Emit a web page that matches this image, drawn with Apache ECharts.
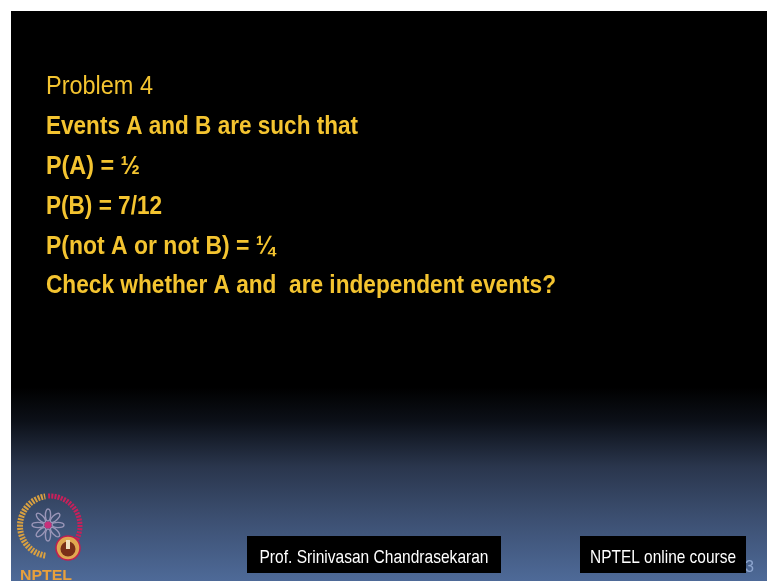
<!DOCTYPE html>
<html>
<head>
<meta charset="utf-8">
<script src="https://cdn.jsdelivr.net/npm/echarts@6/dist/echarts.min.js"></script>
<style>
html,body{margin:0;padding:0;background:#fff;}
#main{width:767px;height:581px;}
</style>
</head>
<body>
<div id="main"></div>
<script>
// ---- content (text of the slide) ----
var titleLine = 'Problem 4';
var bodyLines = [
  'Events A and B are such that',
  'P(A) = \u00BD',
  'P(B) = 7/12',
  'P(not A or not B) = \u00BC',
  'Check whether A and  are independent events?'
];
var footerLabels = ['Prof. Srinivasan Chandrasekaran', 'NPTEL online course'];
var pageNumber = '3';
var logoText = 'NPTEL';

var textLeft = 46;
var titleBaseline = 95;
var lineStep = 39.8;
var titleWidth = 107;
var bodyWidths = [312, 94, 116, 229, 510];
var footerBoxes = [[247, 536, 254, 37], [580, 536, 166, 37]];
var footerTextWidths = [229, 146];

var YELLOW = '#f4c430';
var FONT = '"Liberation Sans Narrow", "Liberation Sans", Arial, sans-serif';

var mctx = document.createElement('canvas').getContext('2d');
function measure(txt, weight, size){
  mctx.font = weight + ' ' + size + 'px ' + FONT;
  return mctx.measureText(txt).width;
}

var chart = echarts.init(document.getElementById('main'), null, {renderer:'canvas'});
var els = [];

// slide background with bottom gradient
els.push({
  type:'rect', shape:{x:11, y:11, width:756, height:570}, z:0,
  style:{fill:new echarts.graphic.LinearGradient(0,0,0,1,[
    {offset:0, color:'#000000'},
    {offset:0.66, color:'#000000'},
    {offset:0.72, color:'#0c1018'},
    {offset:0.80, color:'#2a364d'},
    {offset:0.89, color:'#3c4f71'},
    {offset:1, color:'#4e6a98'}
  ])}
});

function addText(txt, x, baseline, weight, size, width, color, z){
  var w = measure(txt, weight, size);
  els.push({
    type:'text', x:x, y:baseline - 0.8*size, z:z||10,
    scaleX: width / w,
    style:{text:txt, x:0, y:0, fill:color, font: weight + ' ' + size + 'px ' + FONT,
      align:'left', verticalAlign:'top'}
  });
}

addText(titleLine, textLeft, titleBaseline, 'normal', 25, titleWidth, YELLOW);
bodyLines.forEach(function(t, i){
  addText(t, textLeft, titleBaseline + lineStep*(i+1), 'bold', 26, bodyWidths[i], YELLOW);
});

// page number (partly hidden by the footer box)
addText(pageNumber, 745, 572, 'normal', 17, 9, '#8ea6cf', 5);

// footer boxes
footerBoxes.forEach(function(b, i){
  els.push({type:'rect', shape:{x:b[0], y:b[1], width:b[2], height:b[3]}, z:8, style:{fill:'#000'}});
  addText(footerLabels[i], b[0] + (b[2]-footerTextWidths[i])/2, b[1]+27, 'normal', 19, footerTextWidths[i], '#ffffff', 9);
});

// ---- NPTEL logo (decorative) ----
var cx = 50, cy = 526;
els.push({type:'arc', z:6, shape:{cx:cx, cy:cy, r:30, startAngle:Math.PI*0.55, endAngle:Math.PI*1.45, clockwise:true},
  style:{stroke:'#d9a040', lineWidth:6, lineDash:[2,1.2], fill:null}});
els.push({type:'arc', z:6, shape:{cx:cx, cy:cy, r:30, startAngle:-Math.PI*0.52, endAngle:Math.PI*0.42, clockwise:true},
  style:{stroke:'#c8205a', lineWidth:5, lineDash:[2,1.2], fill:null}});
for (var k=0;k<8;k++){
  var a = k*Math.PI/4;
  els.push({type:'ellipse', z:6, x:cx-2+Math.cos(a)*10, y:cy-1+Math.sin(a)*10, rotation:-a,
    shape:{cx:0, cy:0, rx:6, ry:2.6}, style:{fill:'none', stroke:'#9a96b8', lineWidth:1.4}});
}
els.push({type:'circle', z:7, shape:{cx:cx-2, cy:cy-1, r:3.5}, style:{fill:'#c8307a'}});
els.push({type:'circle', z:7, shape:{cx:68, cy:548, r:12}, style:{fill:'#e0a850', stroke:'#c02050', lineWidth:1.5}});
els.push({type:'circle', z:7, shape:{cx:68, cy:549, r:7.5}, style:{fill:'#7a3018'}});
els.push({type:'rect', z:7, shape:{x:66, y:540, width:4, height:9}, style:{fill:'#f0e0c0'}});
addText(logoText, 20, 580, 'bold', 14, 52, '#e8a03c', 7);

chart.setOption({
  backgroundColor:'#ffffff',
  animation:false,
  graphic:{elements:els}
});
</script>
</body>
</html>
